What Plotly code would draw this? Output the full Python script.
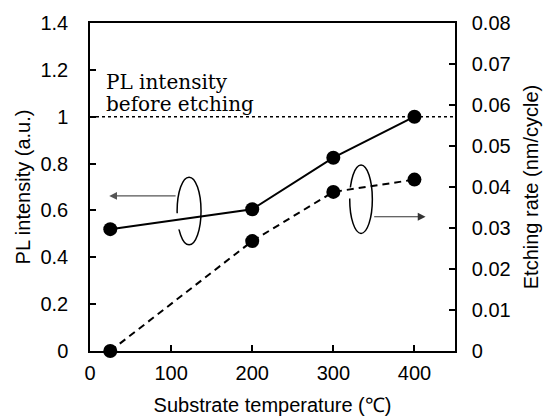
import plotly.graph_objects as go

temps = [25, 200, 300, 400]
pl_intensity = [0.52, 0.605, 0.825, 1.0]
etch_rate = [0.0, 0.0268, 0.0388, 0.0418]

x_ticks = [0, 100, 200, 300, 400]
y1_ticks = [0, 0.2, 0.4, 0.6, 0.8, 1, 1.2, 1.4]
y1_tick_text = ["0", "0.2", "0.4", "0.6", "0.8", "1", "1.2", "1.4"]
y2_ticks = [0, 0.01, 0.02, 0.03, 0.04, 0.05, 0.06, 0.07, 0.08]
y2_tick_text = ["0", "0.01", "0.02", "0.03", "0.04", "0.05", "0.06", "0.07", "0.08"]

SANS = "Liberation Sans, Arial, sans-serif"
SERIF = "DejaVu Serif, serif"

fig = go.Figure()
fig.add_trace(go.Scatter(
    x=temps, y=pl_intensity, mode="lines+markers",
    line=dict(color="black", width=2),
    marker=dict(color="black", size=14),
    showlegend=False, cliponaxis=False,
))
fig.add_trace(go.Scatter(
    x=temps, y=etch_rate, mode="lines+markers", yaxis="y2",
    line=dict(color="black", width=2, dash="7px,5px"),
    marker=dict(color="black", size=14),
    showlegend=False, cliponaxis=False,
))

shapes = [
    dict(type="line", xref="paper", yref="y", x0=0, x1=1, y0=1, y1=1,
         line=dict(color="black", width=1.5, dash="dot"), layer="below"),
    dict(type="circle", xref="x", yref="y", x0=107.4, x1=136.9, y0=0.453, y1=0.742,
         line=dict(color="black", width=1.5), layer="below"),
    dict(type="rect", xref="x", yref="y", x0=103.5, x1=111.5, y0=0.519, y1=0.588,
         line=dict(width=0), fillcolor="white", layer="below"),
    dict(type="circle", xref="x", yref="y", x0=320.2, x1=348.1, y0=0.502, y1=0.794,
         line=dict(color="black", width=1.5), layer="below"),
    dict(type="rect", xref="x", yref="y", x0=316.5, x1=324.0, y0=0.651, y1=0.698,
         line=dict(width=0), fillcolor="white", layer="below"),
]

annotations = [
    dict(x=23.7, y=0.662, ax=107.4, ay=0.662, xref="x", yref="y", axref="x", ayref="y",
         text="", showarrow=True, arrowhead=2, arrowsize=1.3, arrowwidth=1.2,
         arrowcolor="#555555", standoff=0),
    dict(x=413.7, y=0.573, ax=348.5, ay=0.573, xref="x", yref="y", axref="x", ayref="y",
         text="", showarrow=True, arrowhead=2, arrowsize=1.3, arrowwidth=1.2,
         arrowcolor="#333333", standoff=0),
    dict(x=105, y=90, xref="paper", yref="paper", text="PL intensity", showarrow=False,
         font=dict(family=SERIF, size=20, color="black"), xanchor="left", yanchor="bottom",
         borderpad=0),
    dict(x=105, y=112, xref="paper", yref="paper", text="before etching", showarrow=False,
         font=dict(family=SERIF, size=20, color="black"), xanchor="left", yanchor="bottom",
         borderpad=0),
]

W, H = 551, 418
L, R, T, B = 90, 96, 23, 67
pw, ph = W - L - R, H - T - B
for a in annotations[2:]:
    px, py = a["x"], a["y"]
    a["x"] = (px - L) / pw
    a["y"] = (H - B - py) / ph - 5 / ph

axis_common = dict(showline=True, linecolor="black", linewidth=1.5, ticks="inside",
                   tickcolor="black", tickwidth=1.5, ticklen=6, showgrid=False, zeroline=False,
                   automargin=False,
                   tickfont=dict(family=SANS, size=20, color="black"))

fig.update_layout(
    width=W, height=H,
    margin=dict(l=L, r=R, t=T, b=B),
    paper_bgcolor="white", plot_bgcolor="white",
    xaxis=dict(range=[0, 450], tickvals=x_ticks, mirror=True, ticklabelstandoff=3,
               title=dict(text="Substrate temperature (℃)", font=dict(family=SANS, size=20, color="black"), standoff=15),
               **axis_common),
    yaxis=dict(range=[0, 1.4], tickvals=y1_ticks, ticktext=y1_tick_text, ticklabelstandoff=16,
               title=dict(text="PL intensity (a.u.)", font=dict(family=SANS, size=20, color="black"), standoff=4),
               **axis_common),
    yaxis2=dict(range=[0, 0.08], tickvals=y2_ticks, ticktext=y2_tick_text, overlaying="y", side="right",
                ticklabelstandoff=11,
                title=dict(text="Etching rate (nm/cycle)", font=dict(family=SANS, size=20, color="black"), standoff=14),
                **axis_common),
    shapes=shapes, annotations=annotations,
)

fig.write_html("out.html", config={"displayModeBar": False},
               post_script="document.body.style.margin='0';document.body.style.padding='0';")
